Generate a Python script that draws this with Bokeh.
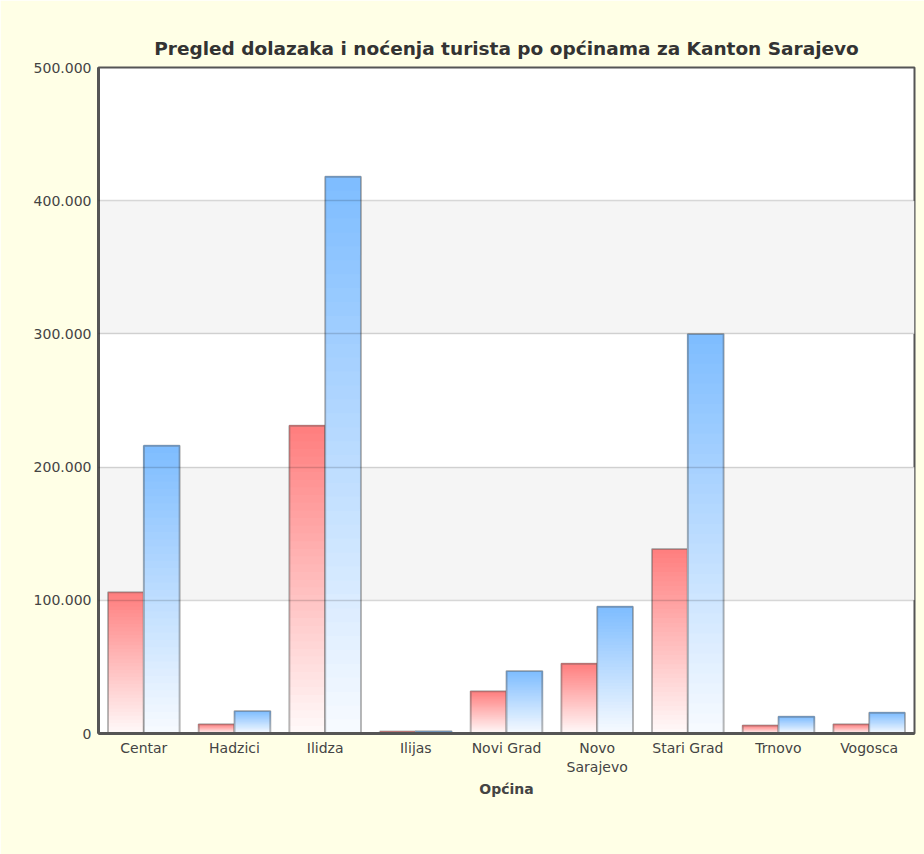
from bokeh.plotting import figure
from bokeh.models import (ColumnDataSource, Range1d, FixedTicker,
                          Legend, LegendItem, Grid, LinearAxis)
from bokeh.embed import file_html
from bokeh.resources import INLINE

# ---- data ----
categories = ["Centar", "Hadzici", "Ilidza", "Ilijas", "Novi Grad",
              "Novo Sarajevo", "Stari Grad", "Trnovo", "Vogosca"]
category_labels = ["Centar", "Hadzici", "Ilidza", "Ilijas", "Novi Grad",
                   "Novo\nSarajevo", "Stari Grad", "Trnovo", "Vogosca"]
dolasci = [106000, 7000, 231000, 1500, 31800, 52400, 138600, 6000, 7000]
nocenja = [216000, 16800, 418000, 1600, 46900, 95200, 300000, 12500, 15500]
y_ticks = [0, 100000, 200000, 300000, 400000, 500000]
y_tick_labels = ["0", "100.000", "200.000", "300.000", "400.000", "500.000"]
series_names = ["Dolasci", "Noćenja"]

FONT = "DejaVu Sans"
N_SLICES = 40
BAR_W = 0.395

# category slots on a numeric axis: slot i spans [i, i+1]
centers = [i + 0.5 for i in range(len(categories))]


def mix(c0, c1, t):
    a = [int(c0[i:i + 2], 16) for i in (1, 3, 5)]
    b = [int(c1[i:i + 2], 16) for i in (1, 3, 5)]
    return "#%02x%02x%02x" % tuple(round(a[j] + (b[j] - a[j]) * t) for j in range(3))


def gradient_source(values, offset, c_bottom, c_top):
    xs, bottoms, tops, colors = [], [], [], []
    for c, v in zip(centers, values):
        for k in range(N_SLICES):
            xs.append(c + offset)
            bottoms.append(v * k / N_SLICES)
            tops.append(v)
            colors.append(mix(c_bottom, c_top, k / (N_SLICES - 1)))
    return ColumnDataSource(dict(x=xs, bottom=bottoms, top=tops, color=colors))


p = figure(frame_width=816, frame_height=666,
           x_range=Range1d(0, len(categories)),
           y_range=Range1d(0, 500000),
           x_axis_location=None,
           output_backend="svg", toolbar_location=None,
           title="Pregled dolazaka i noćenja turista po općinama za Kanton Sarajevo",
           min_border_left=98, min_border_right=10, min_border_top=67,
           min_border_bottom=0)

p.border_fill_color = "#FFFFE6"
p.background_fill_color = "white"
p.outline_line_color = "#555555"
p.outline_line_width = 2

p.title.text_font = FONT
p.title.text_font_size = "18.5px"
p.title.text_font_style = "bold"
p.title.text_color = "#333333"
p.title.align = "center"
p.title.standoff = 17

# grids: bands underneath, lines on top of the bars
p.xgrid.visible = False
p.ygrid.ticker = FixedTicker(ticks=y_ticks)
p.ygrid.grid_line_color = None
p.ygrid.band_fill_color = "#F5F5F5"
p.ygrid.band_fill_alpha = 1.0
line_grid = Grid(dimension=1, ticker=FixedTicker(ticks=y_ticks[1:-1]),
                 grid_line_color="#000000", grid_line_alpha=0.15,
                 grid_line_width=1.5, level="overlay")
p.add_layout(line_grid)

# bars
specs = [(dolasci, "#FFF8F8", "#FF7F7F", -BAR_W / 2),
         (nocenja, "#F6FAFF", "#7FBDFF", BAR_W / 2)]
legend_items = []
for (vals, cb, ct, off), name in zip(specs, series_names):
    src = gradient_source(vals, off, cb, ct)
    r = p.vbar(x="x", bottom="bottom", top="top", width=BAR_W, source=src,
               fill_color="color", line_color=None)
    osrc = ColumnDataSource(dict(x=[c + off for c in centers], top=vals))
    p.vbar(x="x", top="top", width=BAR_W, source=osrc, fill_alpha=0,
           line_color="#555555", line_alpha=0.42, line_width=2)
    legend_items.append(LegendItem(label=name, renderers=[r], index=N_SLICES - 1))

# axes: category names drawn on two rows (first and second line of each label)
first_lines = [s.split("\n")[0] for s in category_labels]
second_lines = [s.split("\n")[1] if "\n" in s else "" for s in category_labels]

x1 = LinearAxis(ticker=FixedTicker(ticks=centers),
                major_label_overrides=dict(zip(centers, first_lines)))
sec = [(c, t) for c, t in zip(centers, second_lines) if t]
x2 = LinearAxis(ticker=FixedTicker(ticks=[c for c, _ in sec]),
                major_label_overrides=dict(sec))
p.add_layout(x1, "below")
p.add_layout(x2, "below")

p.yaxis.ticker = FixedTicker(ticks=y_ticks)
p.yaxis.major_label_overrides = dict(zip(y_ticks, y_tick_labels))

for ax in (x1, x2, p.yaxis[0]):
    ax.axis_line_color = "#555555"
    ax.axis_line_width = 3
    ax.major_tick_line_color = None
    ax.minor_tick_line_color = None
    ax.major_tick_out = 0
    ax.major_tick_in = 0
    ax.minor_tick_out = 0
    ax.minor_tick_in = 0
    ax.major_label_text_font = FONT
    ax.major_label_text_font_size = "14px"
    ax.major_label_text_color = "#444444"
x2.axis_line_color = None
x2.major_label_standoff = 0
p.yaxis.major_label_standoff = 7
x1.major_label_standoff = 6
x2.axis_label = "Općina"
x2.axis_label_text_font = FONT
x2.axis_label_text_font_size = "14px"
x2.axis_label_text_font_style = "bold"
x2.axis_label_text_color = "#444444"
x2.axis_label_standoff = 3

legend = Legend(items=legend_items, orientation="horizontal",
                location="top_center",
                label_text_font=FONT, label_text_font_size="14px",
                label_text_color="#444444", glyph_width=14, glyph_height=14,
                label_standoff=8, spacing=22, padding=8, margin=-19,
                border_line_color="#777777", border_line_width=1.5,
                background_fill_color="white", background_fill_alpha=1)
p.add_layout(legend, "below")

open("out.html", "w").write(file_html(p, INLINE))
